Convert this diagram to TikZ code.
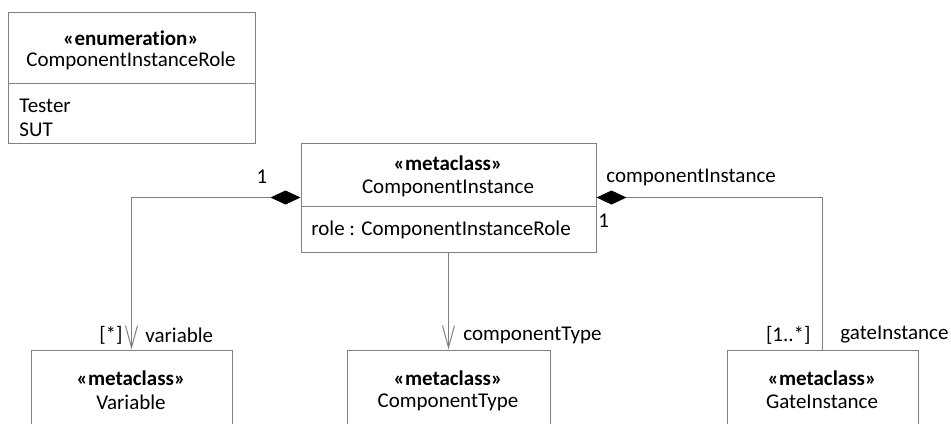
\documentclass[tikz,border=0pt]{standalone}
\usepackage{fontspec}
\setmainfont{Carlito}[Ligatures=NoCommon]
\usetikzlibrary{arrows.meta,fit}

\tikzset{
  umlbox/.style={draw=black!50,line width=0.5pt,inner sep=0pt},
  umlline/.style={draw=black!50,line width=0.5pt},
  owner/.style={umlline,{Diamond[length=15pt,width=7pt,color=black]}-},
  ownernav/.style={umlline,{Diamond[length=15pt,width=7pt,color=black]}-{Straight Barb[length=11pt,width=6pt]}},
  nav/.style={umlline,-{Straight Barb[length=11pt,width=6pt]}},
  lbl/.style={black,inner sep=0pt}
}

\begin{document}
\begin{tikzpicture}[x=0.5pt, y=-0.5pt, font=\fontsize{10.5pt}{12.6pt}\selectfont]

  \useasboundingbox (0,0) rectangle (951,423);
  \clip (0,0) rectangle (951,423);

  % The enumeration in the upper left
  \node[umlbox,fit={(8,12)(255,143)}] (role) {};
  \draw[umlline] (8,83) -- (255,83);
  \node[lbl] (rolest) at (131,38) {\textbf{«enumeration»}};
  \node[lbl] (rolename) at (131,61) {ComponentInstanceRole};
  \node[lbl,anchor=west] (tester) at (19,106) {Tester};
  \node[lbl,anchor=west] (sut) at (19,130) {SUT};

  % The component instance in the middle
  \node[umlbox,fit={(301,143)(596,252)}] (inst) {};
  \draw[umlline] (301,206) -- (596,206);
  \node[lbl] (instst) at (448,163) {\textbf{«metaclass»}};
  \node[lbl] (instname) at (448,188) {ComponentInstance};
  \node[lbl,anchor=west] (instrole) at (311,230) {role : ComponentInstanceRole};

  % Boxes along the bottom
  \node[umlbox,fit={(31,350)(232,440)}] (var) {};
  \node[lbl] (varst) at (131,378) {\textbf{«metaclass»}};
  \node[lbl] (varname) at (131,402) {Variable};

  \node[umlbox,fit={(347,350)(550,440)}] (ctype) {};
  \node[lbl] (ctypest) at (448,378) {\textbf{«metaclass»}};
  \node[lbl] (ctypename) at (448,402) {ComponentType};

  \node[umlbox,fit={(727,350)(918,440)}] (gate) {};
  \node[lbl] (gatest) at (822,378) {\textbf{«metaclass»}};
  \node[lbl] (gatename) at (822,402) {GateInstance};

  % Connectors
  \draw[ownernav] (inst.west) -| (var.north);
  \draw[nav] (inst.south) -- (ctype.north);
  \draw[owner] (inst.east) -| (gate.north);

  % Role names and multiplicities
  \node[lbl] (multvar) at (262,177) {1};
  \node[lbl,anchor=east] (multvarend) at (123,335) {[*]};
  \node[lbl,anchor=west] (varrole) at (145,335) {variable};
  \node[lbl,anchor=west] (ctyperole) at (463,335) {componentType};
  \node[lbl,anchor=west] (instrolename) at (606,177) {componentInstance};
  \node[lbl,anchor=west] (multgate) at (598,221) {1};
  \node[lbl,anchor=east] (multgateend) at (811,335) {[1..*]};
  \node[lbl,anchor=west] (gaterole) at (840,335) {gateInstance};

\end{tikzpicture}
\end{document}
